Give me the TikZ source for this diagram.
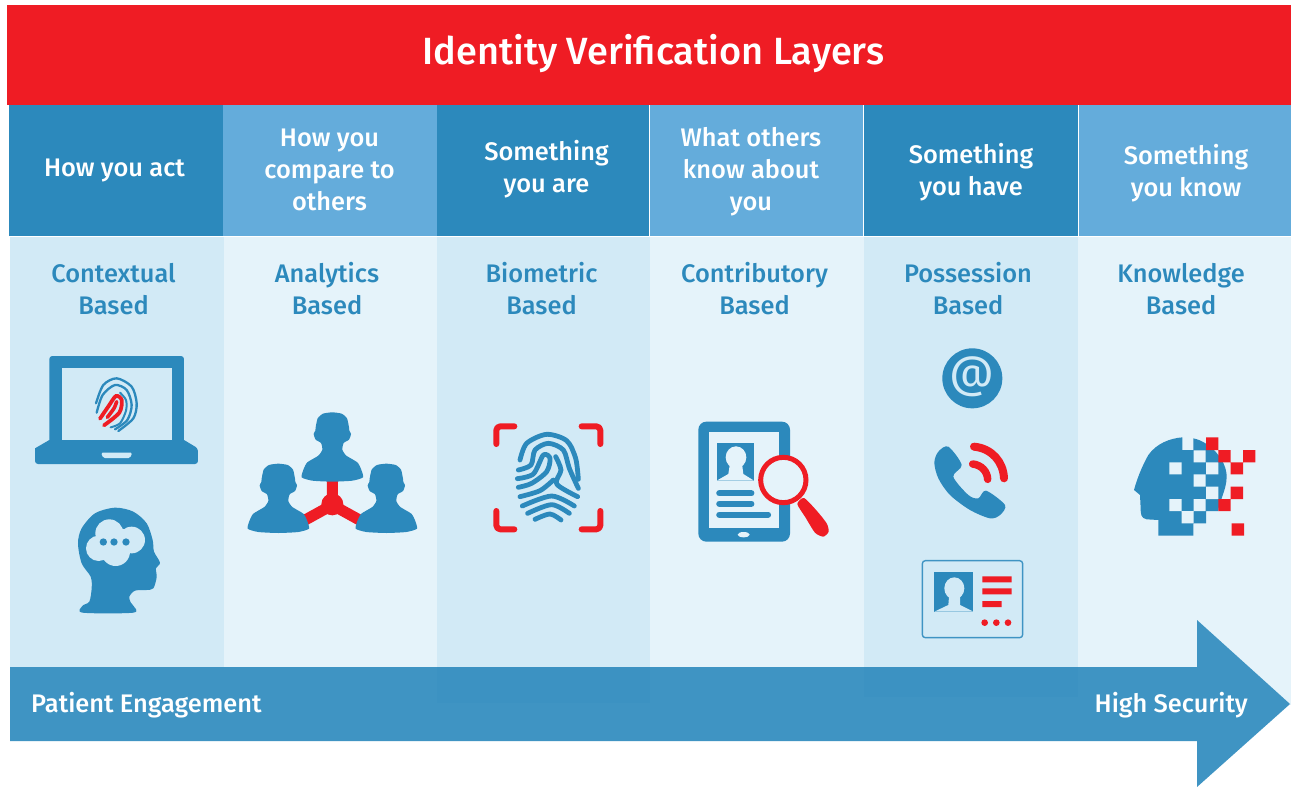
\documentclass[tikz,border=0pt]{standalone}
\usepackage{fontspec}
\setmainfont{Fira Sans}[BoldFont={Fira Sans Medium}]
\definecolor{cred}{HTML}{EF1C24}
\definecolor{cdark}{HTML}{2C89BC}
\definecolor{clight}{HTML}{64ACDB}
\definecolor{cbodya}{HTML}{D2EAF6}
\definecolor{cbodyb}{HTML}{E5F3FA}
\definecolor{carrow}{HTML}{3F94C3}
\tikzset{
  hdr/.style={font=\bfseries\fontsize{25.4}{32}\selectfont,text=white,align=center,inner sep=0pt},
  sub/.style={font=\bfseries\fontsize{25.4}{32}\selectfont,text=cdark,align=center,inner sep=0pt},
  zoomed/.style 2 args={shift={(#1,#2)},x=.33333pt,y=-.33333pt},
  fp/.style={draw=cdark,line cap=round,line join=round},
  bracket/.style={draw=cred,line width=6pt,line cap=round,line join=round,rounded corners=4pt},
}
\newcommand{\personshape}[3][cdark]{%
  \fill[#1,shift={(#2,#3)}] plot[smooth cycle,tension=.35] coordinates {(0,0)(28,4)(44,18)(50,45)(51,55)(56,65)(50,82)(34,92)(30,112)(42,130)(75,150)(86,170)(92,195)(60,205)(0,208)(-60,205)(-92,195)(-86,170)(-75,150)(-42,130)(-30,112)(-34,92)(-50,82)(-56,65)(-51,55)(-50,45)(-44,18)(-28,4)};}
\begin{document}
\begin{tikzpicture}[x=1pt,y=-1pt]
\useasboundingbox (0,0) rectangle (1291,787);
\fill[white] (0,0) rectangle (1291,787);
% header
\fill[cred] (7,5) rectangle (1291,105);
\node[font=\bfseries\fontsize{37.9}{40}\selectfont,text=white,inner sep=0pt] (title) at (653.5,54) {Identity Verification Layers};
% column heads
\fill[cdark] (9,105) rectangle (223,236);
\fill[clight] (223,105) rectangle (437,236);
\fill[cdark] (437,105) rectangle (649,236);
\fill[clight] (650,105) rectangle (863,236);
\fill[cdark] (864,105) rectangle (1078,236);
\fill[clight] (1079,105) rectangle (1291,236);
% column bodies
\fill[cbodya] (10,237) rectangle (224,667);
\fill[cbodyb] (224,237) rectangle (437,667);
\fill[cbodyb] (650,237) rectangle (864,667);
\fill[cbodyb] (1078,237) rectangle (1291,705);
% arrow
\fill[carrow] (10,667) -- (1197,667) -- (1197,620) -- (1290,704) -- (1197,787) -- (1197,741) -- (10,741) -- cycle;
% overlapping translucent columns
\fill[cbodya] (437,237) rectangle (650,667);
\fill[cbodya] (864,237) rectangle (1078,667);
\fill[cdark,opacity=.12] (437,667) rectangle (650,703);
\fill[cdark,opacity=.12] (864,667) rectangle (1078,697);
% header labels
\node[hdr] (h1) at (114.5,170) {How you act};
\node[hdr] (h2) at (329.5,170) {How you\\compare to\\others};
\node[hdr] (h3) at (546.5,169) {Something\\you are};
\node[hdr] (h4) at (751,172) {What others\\know about\\you};
\node[hdr] (h5) at (971,172.5) {Something\\you have};
\node[hdr] (h6) at (1186,173.5) {Something\\you know};
\node[sub] (s1) at (113.5,289) {Contextual\\Based};
\node[sub] (s2) at (327,289) {Analytics\\Based};
\node[sub] (s3) at (541.5,289) {Biometric\\Based};
\node[sub] (s4) at (754.5,289) {Contributory\\Based};
\node[sub] (s5) at (968,289) {Possession\\Based};
\node[sub] (s6) at (1181,289) {Knowledge\\Based};
\node[hdr,anchor=west] (pe) at (31,705) {Patient Engagement};
\node[hdr,anchor=east] (hs) at (1248,705) {High Security};
% laptop + head
\begin{scope}[zoomed={20}{340}]
\fill[cdark,rounded corners=3pt] (88,320) -- (88,48) -- (492,48) -- (492,320) -- cycle;
\fill[cdark] (88,300) -- (45,325) [rounded corners=3pt] -- (45,372) -- (534,372) -- (534,325) [sharp corners] -- (492,300) -- cycle;
\fill[cbodya] (127,85) rectangle (455,300);
\fill[cbodya,rounded corners=1.5pt] (243,338) -- (337,338) -- (330,354) -- (250,354) -- cycle;
\draw[fp,line width=2.3pt] plot[smooth] coordinates {(228,190)(250,135)(290,115)(335,140)(350,190)(340,235)(295,273)};
\draw[fp,line width=2.3pt] plot[smooth] coordinates {(230,218)(248,165)(285,135)(320,150)(335,195)(322,240)(285,268)};
\draw[fp,line width=2pt] plot[smooth] coordinates {(300,158)(318,180)(318,212)(300,250)(272,262)};
\draw[cred,line width=3.8pt,line cap=round] plot[smooth] coordinates {(240,236)(266,198)(288,168)(305,180)(298,218)(252,256)};
\draw[cred,line width=3.6pt,line cap=round] plot[smooth] coordinates {(262,232)(282,205)(290,185)};
% thinking head
\fill[cdark] plot[smooth cycle,tension=.5] coordinates {(285,503)(340,515)(380,550)(398,600)(402,635)(420,668)(408,685)(410,712)(400,745)(380,750)(345,752)(328,770)(332,787)(340,797)(340,818)(188,818)(188,797)(208,785)(215,745)(212,710)(185,670)(174,610)(185,565)(225,520)};
\fill[cbodya] (268,580) circle[radius=42] (335,600) circle[radius=40] (236,625) circle[radius=38] (287,635) circle[radius=43] (300,600) circle[radius=35];
\fill[cdark] (250,606) circle[radius=11] (282,606) circle[radius=11] (318,606) circle[radius=11];
\end{scope}
% people + biometric fingerprint
\begin{scope}[zoomed={235}{400}]
\draw[cred,line width=11pt] (292,240) -- (292,315) (205,363) -- (292,315) -- (379,363);
\fill[cred] (292,313) circle[radius=33];
\personshape{292}{37}
\personshape{130}{191}
\personshape{454}{191}
\draw[bracket] (784,132) -- (784,79) -- (838,79);
\draw[bracket] (1040,79) -- (1096,79) -- (1096,132);
\draw[bracket] (784,333) -- (784,388) -- (838,388);
\draw[bracket] (1040,388) -- (1096,388) -- (1096,333);
\begin{scope}[line width=4.8pt]
\draw[fp] plot[smooth] coordinates {(855,180)(875,130)(935,103)(995,122)(1022,175)(1030,238)};
\draw[fp] plot[smooth] coordinates {(850,210)(888,195)(900,150)(940,130)(985,150)(1003,205)(1030,265)};
\draw[fp] plot[smooth] coordinates {(847,236)(895,222)(925,165)(945,175)(935,215)(890,250)(850,262)};
\draw[fp] plot[smooth] coordinates {(962,170)(978,210)(965,252)(1028,290)};
\draw[fp] plot[smooth] coordinates {(855,290)(915,272)(955,240)};
\draw[fp] plot[smooth] coordinates {(862,318)(950,288)(1018,318)};
\draw[fp] plot[smooth] coordinates {(878,340)(950,314)(1003,340)};
\draw[fp] plot[smooth] coordinates {(900,358)(945,342)(978,360)};
\end{scope}
\end{scope}
% tablet
\begin{scope}[zoomed={680}{400}]
\fill[cdark,rounded corners=8pt] (55,65) rectangle (330,425);
\fill[cbodyb] (87,97) rectangle (298,385);
\fill[cbodyb] (191,404) ellipse[x radius=18,y radius=8];
\fill[cdark] (110,128) rectangle (222,242);
\fill[cbodyb] (168,172) ellipse[x radius=31,y radius=33];
\fill[cbodyb] (110,242) -- (145,222) -- (150,190) -- (186,190) -- (190,222) -- (222,242) -- cycle;
\draw[cdark,line width=6.2pt,line cap=round] (118,280) -- (214,280) (118,311) -- (214,311) (118,344) -- (264,344);
\fill[cbodyb] (310,240) circle[radius=68];
\draw[cred,line width=5pt] (310,240) circle[radius=68];
\fill[cred] plot[smooth cycle,tension=.4] coordinates {(352,312)(372,294)(410,332)(440,370)(446,395)(430,410)(405,398)(375,350)};
\end{scope}
% possession icons
\begin{scope}[zoomed={900}{340}]
\fill[cdark] (217,115) circle[radius=90];
\node[text=cbodya,inner sep=0pt,font=\fontsize{44}{44}\selectfont] (at) at (217,110) {@};
\fill[cdark] plot[smooth cycle,tension=.5] coordinates {(103,368)(115,335)(145,320)(185,375)(160,410)(205,465)(235,475)(258,452)(315,495)(300,525)(270,535)(210,510)(150,465)(115,415)};
\draw[cred,line width=8pt,line cap=round] (222,320) .. controls (275,325) and (310,365) .. (312,415);
\draw[cred,line width=7.5pt,line cap=round] (218,372) .. controls (245,375) and (262,395) .. (263,418);
\draw[carrow,line width=1.4pt,rounded corners=3pt] (67,662) rectangle (368,893);
\fill[cdark] (103,697) rectangle (220,815);
\fill[cbodya] (163,745) ellipse[x radius=30,y radius=33];
\fill[cbodya] (103,815) -- (145,795) -- (148,760) -- (180,760) -- (180,795) -- (220,815) -- cycle;
\fill[cred] (247,709) rectangle (335,727) (247,745) rectangle (335,763) (247,783) rectangle (305,801);
\fill[cred] (254,848) circle[radius=10] (289,848) circle[radius=10] (324,848) circle[radius=10];
\end{scope}
% pixel head
\begin{scope}[zoomed={1120}{420}]
\fill[cdark] (187,52) -- (187,90) -- (220,90) -- (220,55) .. controls (270,65) and (320,120) .. (320,170) .. controls (320,210) and (295,250) .. (295,273) -- (258,273) -- (258,310) -- (220,310) -- (220,347) -- (115,347) -- (115,300) -- (80,298) .. controls (62,295) and (62,280) .. (62,265) -- (60,225) -- (42,210) .. controls (50,180) and (65,140) .. (85,105) .. controls (110,70) and (150,55) .. cycle;
\fill[cbodyb] (148,127) rectangle (185,163) (221,91) rectangle (257,127) (258,127) rectangle (295,163) (221,163) rectangle (257,200) (258,200) rectangle (295,237) (148,237) rectangle (185,273) (221,237) rectangle (257,273) (185,273) rectangle (221,310);
\fill[cred] (258,52) rectangle (295,90) (295,90) rectangle (332,127) (369,90) rectangle (406,127) (332,127) rectangle (369,163) (332,200) rectangle (369,237) (295,237) rectangle (332,273) (335,310) rectangle (372,347);
\end{scope}
\end{tikzpicture}
\end{document}
